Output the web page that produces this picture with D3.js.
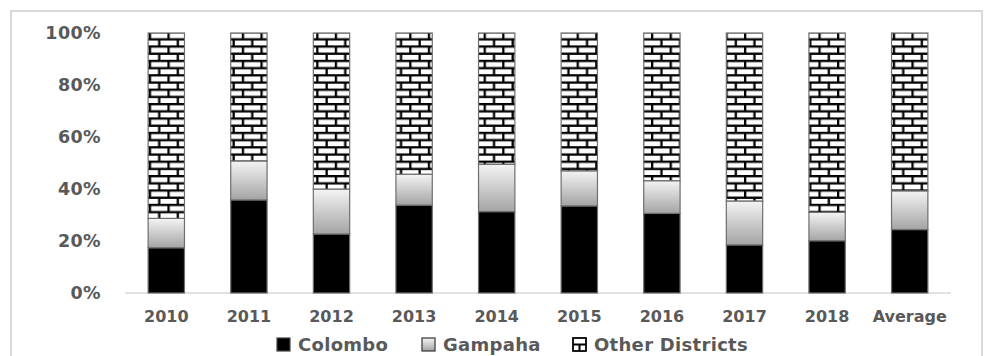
<!DOCTYPE html>
<html>
<head>
<meta charset="utf-8">
<script src="https://cdn.jsdelivr.net/npm/d3@7"></script>
<style>
  html, body { margin: 0; padding: 0; background: #fff; }
  svg { display: block; }
  text { font-family: "DejaVu Sans", sans-serif; font-weight: bold; fill: #595959; }
</style>
</head>
<body>
<svg id="chart" width="984" height="356"></svg>
<script>
// Share of each district (per cent of total), by year
const categories = ["2010", "2011", "2012", "2013", "2014", "2015", "2016", "2017", "2018", "Average"];
const colombo  = [17.4, 35.8, 22.7, 33.8, 31.3, 33.5, 30.6, 18.5, 20.1, 24.4];
const gampaha  = [11.3, 15.0, 17.3, 11.9, 18.2, 13.5, 12.6, 16.9, 10.9, 14.9];
const others   = categories.map((c, i) => 100 - colombo[i] - gampaha[i]);
const seriesNames = ["Colombo", "Gampaha", "Other Districts"];
const yTicks = [0, 20, 40, 60, 80, 100];

const svg = d3.select("#chart");
const W = 984, H = 356;

// Outer chart frame
svg.append("rect")
  .attr("x", 11).attr("y", 11).attr("width", 971).attr("height", H)
  .attr("fill", "#fff").attr("stroke", "#d9d9d9").attr("stroke-width", 2);

const defs = svg.append("defs");

// Gampaha fill: soft grey gradient
const grad = defs.append("linearGradient")
  .attr("id", "gGrad").attr("x1", 0).attr("y1", 0).attr("x2", 0).attr("y2", 1);
grad.append("stop").attr("offset", "0%").attr("stop-color", "#f4f4f4");
grad.append("stop").attr("offset", "100%").attr("stop-color", "#a4a4a4");

// Other districts fill: brick pattern
const bw = 18.6, bh = 7.2, m = 2.3;
const pat = defs.append("pattern")
  .attr("id", "brick").attr("patternUnits", "userSpaceOnUse")
  .attr("x", 0).attr("y", 31)
  .attr("width", bw).attr("height", bh * 2);
pat.append("rect").attr("width", bw).attr("height", bh * 2).attr("fill", "#000");
// bricks, row 1 and offset row 2
pat.append("rect").attr("x", m).attr("y", m).attr("width", bw - m).attr("height", bh - m).attr("fill", "#fff");
pat.append("rect").attr("x", 0).attr("y", bh + m).attr("width", bw / 2).attr("height", bh - m).attr("fill", "#fff");
pat.append("rect").attr("x", bw / 2 + m).attr("y", bh + m).attr("width", bw / 2 - m).attr("height", bh - m).attr("fill", "#fff");

const x = d3.scaleBand()
  .domain(categories)
  .range([125, 951])
  .paddingInner(0.56)
  .paddingOuter(0.28);

const y = d3.scaleLinear().domain([0, 100]).range([293, 33]);

// Y axis (labels only)
const yAxis = svg.append("g")
  .attr("transform", "translate(101,0)")
  .call(d3.axisLeft(y).tickValues(yTicks).tickFormat(d => d + "%").tickSize(0).tickPadding(0));
yAxis.select(".domain").remove();
yAxis.selectAll("text")
  .attr("font-size", "17.5px")
  .attr("font-family", "DejaVu Sans, sans-serif")
  .attr("font-weight", "bold")
  .attr("letter-spacing", "0.4px")
  .attr("fill", "#595959");

// Baseline
svg.append("line")
  .attr("x1", 125).attr("x2", 951)
  .attr("y1", y(0)).attr("y2", y(0))
  .attr("stroke", "#d9d9d9").attr("stroke-width", 1.5);

// Stacked bars
const rows = categories.map((c, i) => ({ cat: c, Colombo: colombo[i], Gampaha: gampaha[i], "Other Districts": others[i] }));
const stack = d3.stack().keys(seriesNames)(rows);
const fills = { "Colombo": "#000", "Gampaha": "url(#gGrad)", "Other Districts": "url(#brick)" };

svg.append("g").selectAll("g")
  .data(stack)
  .join("g")
  .attr("fill", d => fills[d.key])
  .selectAll("rect")
  .data(d => d)
  .join("rect")
  .attr("x", d => x(d.data.cat))
  .attr("width", x.bandwidth())
  .attr("y", d => y(d[1]))
  .attr("height", d => y(d[0]) - y(d[1]))
  .attr("stroke", "#6e6e6e")
  .attr("stroke-width", 1.2);

// X axis labels
const xAxis = svg.append("g")
  .attr("transform", `translate(0,${y(0)})`)
  .call(d3.axisBottom(x).tickSize(0).tickPadding(18));
xAxis.select(".domain").remove();
xAxis.selectAll("text")
  .attr("font-size", "16px")
  .attr("font-family", "DejaVu Sans, sans-serif")
  .attr("font-weight", "bold")
  .attr("fill", "#595959");

// Legend
const legendX = [277, 422, 573];
const leg = svg.append("g");
seriesNames.forEach((name, i) => {
  const g = leg.append("g").attr("transform", `translate(${legendX[i]},338)`);
  g.append("rect").attr("width", 13).attr("height", 13)
    .attr("fill", name === "Other Districts" ? "#fff" : fills[name])
    .attr("stroke", name === "Colombo" ? "#444" : "#333").attr("stroke-width", 1.2);
  if (name === "Other Districts") {
    g.append("line").attr("x1", 0).attr("x2", 13).attr("y1", 6.5).attr("y2", 6.5)
      .attr("stroke", "#000").attr("stroke-width", 2);
    g.append("line").attr("x1", 6.5).attr("x2", 6.5).attr("y1", 6.5).attr("y2", 13)
      .attr("stroke", "#000").attr("stroke-width", 2);
    g.append("rect").attr("width", 13).attr("height", 13).attr("fill", "none")
      .attr("stroke", "#000").attr("stroke-width", 1.6);
  }
  g.append("text").attr("x", 21).attr("y", 13)
    .attr("font-size", "18px")
    .attr("letter-spacing", "0.3px")
    .text(name);
});
</script>
</body>
</html>
